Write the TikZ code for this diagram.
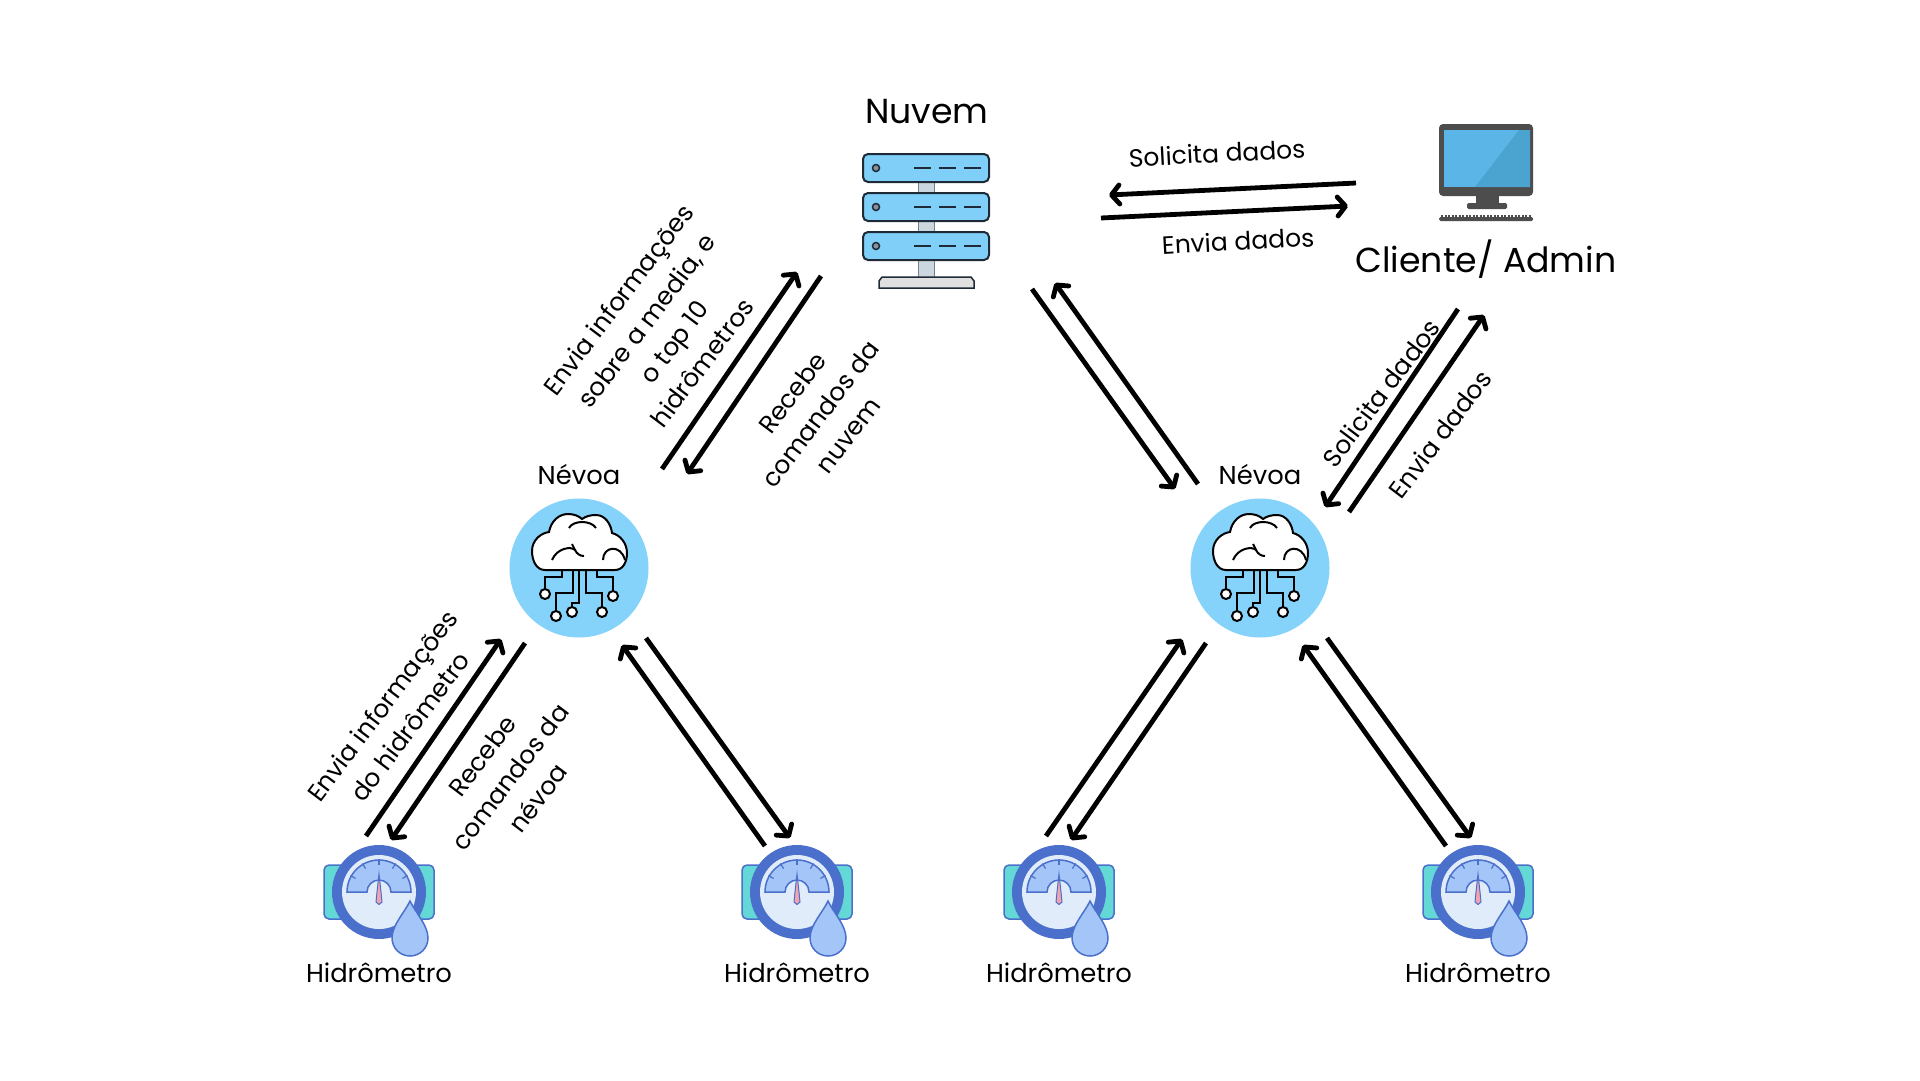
\documentclass[tikz,border=0pt]{standalone}
\usepackage{fontspec}
\setmainfont{Poppins}
\usetikzlibrary{arrows.meta}
\definecolor{ceu}{HTML}{85D3FB}
\definecolor{rack}{HTML}{7FCFF8}
\definecolor{haste}{HTML}{CBD6DE}
\definecolor{tinta}{HTML}{1E2A36}
\definecolor{tela}{HTML}{5BB5E6}
\definecolor{telab}{HTML}{4BA3CF}
\definecolor{moldura}{HTML}{4D4D4D}
\definecolor{anel}{HTML}{4A70CB}
\definecolor{corpo}{HTML}{63D8D6}
\definecolor{mostrador}{HTML}{E1ECFA}
\definecolor{gota}{HTML}{A4C5F8}
\definecolor{agulha}{HTML}{F2A3AC}
\tikzset{
  seta/.style={line width=4.8pt,-{Straight Barb[round,length=8pt,width=19pt]}},
  rotulo/.style={font=\fontsize{25}{35}\selectfont,align=center},
  nome/.style={font=\fontsize{25.8}{32}\selectfont},
  titulo/.style={font=\fontsize{34.7}{40}\selectfont},
  servidor/.pic={
    \draw[tinta!60,line width=1pt,fill=haste] (-8,-50) rectangle (8,57);
    \foreach \y in {-53,-14,25} {
      \draw[tinta,line width=2pt,fill=rack,rounded corners=5pt] (-63,\y-14) rectangle (63,\y+14);
      \draw[tinta,line width=1.5pt,fill=haste!60!tinta] (-50,\y) circle (3.5pt);
      \draw[tinta,line width=2pt,dash pattern=on 17pt off 8pt] (-12,\y) -- (55,\y);
    }
    \draw[tinta,line width=1.5pt,fill=black!12] (-47,67) -- (-47,60) -- (-44,56) -- (45,56) -- (48,60) -- (48,67) -- cycle;
  },
  monitor/.pic={
    \fill[moldura,rounded corners=4pt] (-47,-46) rectangle (47,26);
    \fill[tela] (-42,-40) rectangle (44,17);
    \fill[telab] (44,-40) -- (44,17) -- (-11,17) -- (33,-40) -- cycle;
    \fill[moldura] (-10,26) rectangle (13,33);
    \fill[moldura,rounded corners=1.5pt] (-19,33) rectangle (21,39);
    \fill[moldura,rounded corners=1.5pt] (-47,47) rectangle (47,51);
    \draw[moldura,line width=2pt,dash pattern=on 2pt off 1.5pt] (-45,46) -- (45,46);
  },
  nevoeiro/.pic={
    \draw[black,line width=2pt,fill=white] (-34,2) .. controls (-43,2) and (-47,-8) .. (-47,-17)
      .. controls (-47,-28) and (-38,-35) .. (-30,-36) .. controls (-28,-47) and (-20,-54) .. (-11,-54)
      .. controls (-5,-54) and (0,-52) .. (3,-49) .. controls (7,-52) and (12,-53) .. (17,-53)
      .. controls (26,-53) and (32,-44) .. (33,-35) .. controls (41,-33) and (48,-25) .. (48,-15)
      .. controls (48,-6) and (44,2) .. (36,2) -- cycle;
    \draw[black,line width=2pt] (-10,-40) .. controls (-6,-48) and (12,-48) .. (17,-40);
    \draw[black,line width=2pt] (-27,-8) .. controls (-22,-20) and (-8,-22) .. (-4,-18) .. controls (-2,-14) and (1,-12) .. (5,-12);
    \draw[black,line width=2pt] (-7,-24) -- (-4,-18);
    \draw[black,line width=2pt] (24,-8) .. controls (24,-22) and (42,-24) .. (46,-8);
    \draw[black,line width=2pt] (-17,3) |- (-34,9) -- (-34,22);
    \draw[black,line width=2pt] (-6,3) |- (-23,25) -- (-23,43);
    \draw[black,line width=2pt] (0,3) |- (-7,35) -- (-7,40);
    \draw[black,line width=2pt] (7,3) |- (23,25) -- (23,39);
    \draw[black,line width=2pt] (18,3) |- (34,9) -- (34,24);
    \draw[black,line width=2pt,fill=white] (-34,26) circle (5pt) (-23,48) circle (5pt) (-7,44) circle (5pt) (23,44) circle (5pt) (34,28) circle (5pt);
  },
  hidro/.pic={
    \draw[anel,line width=1.5pt,fill=corpo,rounded corners=5pt] (-55,-27) rectangle (55,27);
    \fill[anel] (0,0) circle (47pt);
    \fill[mostrador] (0,0) circle (37pt);
    \draw[anel,line width=1.5pt,fill=gota] (-32,0) arc[start angle=180,end angle=0,radius=32pt] -- (12,0) arc[start angle=0,end angle=180,radius=12pt] -- cycle;
    \foreach \a in {30,60,90,120,150} \draw[anel,line width=1.2pt] (\a:27pt) -- (\a:33pt);
    \draw[anel,line width=1pt,fill=agulha] (-2,0) -- (0,-18) -- (2,0) -- (3,10) -- (0,12.5) -- (-3,10) -- cycle;
    \draw[anel,line width=1.5pt,fill=gota] (31,9) .. controls (36,20) and (49,33) .. (49,46) .. controls (49,56) and (41,64) .. (31,64) .. controls (21,64) and (13,56) .. (13,46) .. controls (13,33) and (26,20) .. (31,9) -- cycle;
  }
}
\begin{document}
\begin{tikzpicture}[x=1pt,y=-1pt]
\path[use as bounding box,fill=white] (0,0) rectangle (1920,1080);
% pontos de cada parte
\coordinate (nu) at (926,221);
\coordinate (cl) at (1486,170);
\node[circle,fill=ceu,minimum size=139pt,inner sep=0pt] (nb1) at (579,568) {};
\node[circle,fill=ceu,minimum size=139pt,inner sep=0pt] (nb2) at (1260,568) {};
\coordinate (h1) at (379,892);
\coordinate (h2) at (797,892);
\coordinate (h3) at (1059,892);
\coordinate (h4) at (1478,892);
\pic at (nu) {servidor};
\pic at (cl) {monitor};
\pic at (nb1) {nevoeiro};
\pic at (nb2) {nevoeiro};
\pic at (h1) {hidro};
\pic at (h2) {hidro};
\pic at (h3) {hidro};
\pic at (h4) {hidro};
% nomes
\node[titulo] (tnu) at (927,112) {Nuvem};
\node[titulo] (tcl) at (1486,259) {Cliente/ Admin};
\node[nome] (tnb1) at (579,475) {Névoa};
\node[nome] (tnb2) at (1260,475) {Névoa};
\node[nome] (th1) at (379,973) {Hidrômetro};
\node[nome] (th2) at (797,973) {Hidrômetro};
\node[nome] (th3) at (1059,973) {Hidrômetro};
\node[nome] (th4) at (1478,973) {Hidrômetro};
% setas
\draw[seta] ([shift={(83,-99)}]nb1.center) -- ([shift={(-129,51)}]nu);
\draw[seta] ([shift={(-105,55)}]nu) -- ([shift={(108,-94)}]nb1.center);
\draw[seta] ([shift={(106,68)}]nu) -- ([shift={(-85,-79)}]nb2.center);
\draw[seta] ([shift={(-62,-84)}]nb2.center) -- ([shift={(129,62)}]nu);
\draw[seta] ([shift={(-130,13)}]cl) -- ([shift={(183,-26)}]nu);
\draw[seta] ([shift={(175,-3)}]nu) -- ([shift={(-138,36)}]cl);
\draw[seta] ([shift={(-28,139)}]cl) -- ([shift={(65,-61)}]nb2.center);
\draw[seta] ([shift={(89,-56)}]nb2.center) -- ([shift={(-2,145)}]cl);
\draw[seta] ([shift={(-13,-56)}]h1) -- ([shift={(-78,71)}]nb1.center);
\draw[seta] ([shift={(-54,75)}]nb1.center) -- ([shift={(12,-52)}]h1);
\draw[seta] ([shift={(-32,-46)}]h2) -- ([shift={(43,77)}]nb1.center);
\draw[seta] ([shift={(67,70)}]nb1.center) -- ([shift={(-7,-54)}]h2);
\draw[seta] ([shift={(-13,-56)}]h3) -- ([shift={(-78,71)}]nb2.center);
\draw[seta] ([shift={(-54,75)}]nb2.center) -- ([shift={(12,-52)}]h3);
\draw[seta] ([shift={(-32,-46)}]h4) -- ([shift={(43,77)}]nb2.center);
\draw[seta] ([shift={(67,70)}]nb2.center) -- ([shift={(-7,-54)}]h4);
% textos das setas
\node[rotulo,rotate=3] (l1) at (1217,153) {Solicita dados};
\node[rotulo,rotate=3] (l2) at (1238,241) {Envia dados};
\node[rotulo,rotate=53] (l3) at (660,331) {Envia informações\\sobre a media, e\\o top 10\\hidrômetros};
\node[rotulo,rotate=53] (l4) at (820,414) {Recebe\\comandos da\\nuvem};
\node[rotulo,rotate=53] (l5) at (396,716) {Envia informações\\do hidrômetro};
\node[rotulo,rotate=53] (l6) at (510,777) {Recebe\\comandos da\\névoa};
\node[rotulo,rotate=53] (l7) at (1381,393) {Solicita dados};
\node[rotulo,rotate=53] (l8) at (1440,434) {Envia dados};
\end{tikzpicture}
\end{document}
